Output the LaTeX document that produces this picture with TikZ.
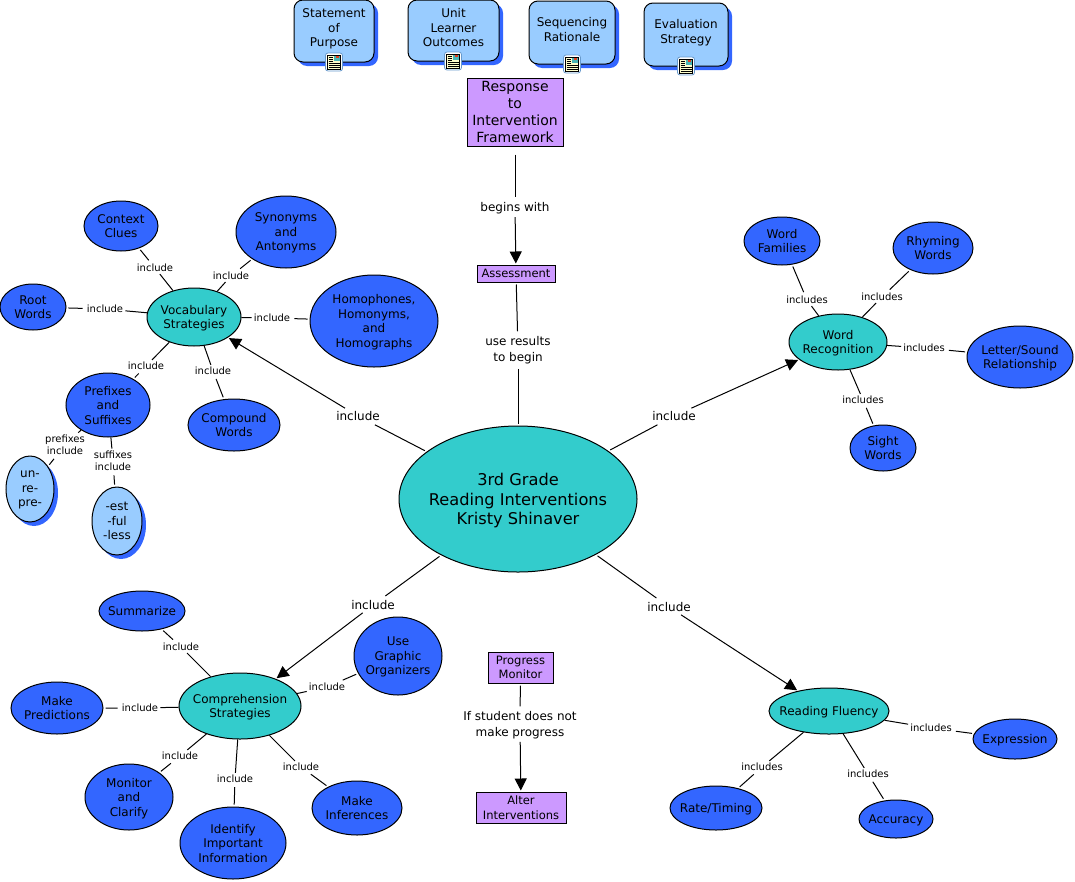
\documentclass[tikz,border=0pt]{standalone}
\usepackage{xcolor}
\usepackage{fontspec}
\setmainfont{DejaVu Sans}
\usetikzlibrary{arrows.meta,shapes.geometric,shadows}
\definecolor{conceptblue}{HTML}{3366FF}
\definecolor{paleblue}{HTML}{99CCFF}
\definecolor{teal}{HTML}{33CCCC}
\definecolor{lilac}{HTML}{CC99FF}
\definecolor{pagecream}{HTML}{FFFFCC}
\definecolor{framesteel}{HTML}{6699CC}
\tikzset{
  ell/.style 2 args={ellipse, draw, line width=1pt, inner sep=-14pt, align=center, text depth=-2pt,
    font=\fontsize{12}{14.5}\selectfont, minimum width=#1pt, minimum height=#2pt},
  leaf/.style={fill=conceptblue},
  hub/.style={fill=teal},
  pale/.style={fill=paleblue, drop shadow={shadow xshift=4pt, shadow yshift=-4pt, fill=conceptblue, opacity=1}},
  card/.style 2 args={rectangle, rounded corners=9pt, draw, line width=1pt, fill=paleblue, align=center, text depth=6pt,
    font=\fontsize{12}{14.5}\selectfont, minimum width=#1pt, minimum height=#2pt, inner sep=0pt,
    drop shadow={shadow xshift=4pt, shadow yshift=-4pt, fill=conceptblue, opacity=1}},
  stage/.style 2 args={rectangle, draw, line width=1pt, fill=lilac, align=center, inner sep=0pt,
    minimum width=#1pt, minimum height=#2pt},
  lbl/.style={align=center, inner sep=2pt, font=\fontsize{10}{12.5}\selectfont},
  biglbl/.style={align=center, inner sep=3pt, font=\fontsize{12}{15.5}\selectfont},
  link/.style={line width=1pt, shorten <=2pt, shorten >=2pt},
  tolink/.style={line width=1pt, shorten >=1pt, -{Triangle[length=12pt,width=12pt]}},
  docicon/.pic={
    \draw[framesteel, fill=white, rounded corners=2.5pt, line width=.8pt] (-8.5,-9) rectangle (8.5,9);
    \draw[fill=pagecream, line width=.9pt] (-6.5,-7) rectangle (6.5,7);
    \fill[teal!70!gray] (0,-6) rectangle (5.5,-1);
    \fill[red!50!brown] (2,-6) rectangle (5,-4);
    \foreach \y in {-5,-3,-1} \draw[line width=.7pt] (-5.5,\y) -- (-1.5,\y);
    \foreach \y in {1.5,3.5,5.5} \draw[line width=.7pt] (-5.5,\y) -- (5.5,\y);
  }
}
\begin{document}
\begin{tikzpicture}[x=1pt, y=-1pt]
\useasboundingbox (0,0) rectangle (1075,881);
% resource cards
\node[card={80}{62}] (purpose) at (334,31) {Statement\\of\\Purpose};
\node[card={91}{61}] (outcomes) at (453.5,30.5) {Unit\\Learner\\Outcomes};
\node[card={86}{63}] (rationale) at (572,32.5) {Sequencing\\Rationale};
\node[card={84}{63}] (evaluation) at (686,34.5) {Evaluation\\Strategy};
\pic at (334,62) {docicon};
\pic at (453,61) {docicon};
\pic at (572,64) {docicon};
\pic at (686,66) {docicon};
% framework column
\node[stage={96}{68}, font=\fontsize{14}{17}\selectfont] (framework) at (515,112) {Response\\to\\Intervention\\Framework};
\node[stage={78}{17}, font=\fontsize{11.5}{14}\selectfont] (assessment) at (516,273.5) {Assessment};
\node[ell={238}{146}, hub, font=\fontsize{16.2}{19.5}\selectfont] (reading) at (518,499) {3rd Grade\\Reading Interventions\\Kristy Shinaver};
\node[stage={65}{31}, font=\fontsize{11.5}{14.5}\selectfont] (monitor) at (520.5,667.5) {Progress\\Monitor};
\node[stage={90}{31}, font=\fontsize{11.5}{14.5}\selectfont] (alter) at (521,807.5) {Alter\\Interventions};
% hubs
\node[ell={94}{58}, hub] (vocab) at (194,317) {Vocabulary\\Strategies};
\node[ell={98}{56}, hub] (wordrec) at (838,342) {Word\\Recognition};
\node[ell={120}{46}, hub] (fluency) at (829,711) {Reading Fluency};
\node[ell={122}{66}, hub] (compre) at (240,706) {Comprehension\\Strategies};
% vocabulary leaves
\node[ell={74}{50}, leaf] (context) at (121,226) {Context\\Clues};
\node[ell={100}{72}, leaf] (synonyms) at (286,232) {Synonyms\\and\\Antonyms};
\node[ell={66}{46}, leaf] (root) at (33,307) {Root\\Words};
\node[ell={128}{92}, leaf] (homo) at (374,321) {Homophones,\\Homonyms,\\and\\Homographs};
\node[ell={92}{52}, leaf] (compound) at (234,425) {Compound\\Words};
\node[ell={84}{64}, leaf] (prefixes) at (108,405) {Prefixes\\and\\Suffixes};
\node[ell={48}{66}, pale] (unre) at (30,489) {un-\\re-\\pre-};
\node[ell={50}{68}, pale] (estful) at (117,521) {-est\\-ful\\-less};
% word recognition leaves
\node[ell={76}{48}, leaf] (families) at (782,241) {Word\\Families};
\node[ell={80}{52}, leaf] (rhyming) at (933,248) {Rhyming\\Words};
\node[ell={106}{62}, leaf] (letter) at (1020,357) {Letter/Sound\\Relationship};
\node[ell={66}{46}, leaf] (sight) at (883,448) {Sight\\Words};
% fluency leaves
\node[ell={84}{40}, leaf] (expression) at (1015,739) {Expression};
\node[ell={92}{44}, leaf] (rate) at (716,808) {Rate/Timing};
\node[ell={74}{38}, leaf] (accuracy) at (896,819) {Accuracy};
% comprehension leaves
\node[ell={86}{40}, leaf] (summarize) at (142,611) {Summarize};
\node[ell={92}{52}, leaf] (predict) at (57,708) {Make\\Predictions};
\node[ell={88}{78}, leaf] (graphic) at (398,656) {Use\\Graphic\\Organizers};
\node[ell={88}{66}, leaf] (clarify) at (129,797) {Monitor\\and\\Clarify};
\node[ell={106}{72}, leaf] (identify) at (233,843) {Identify\\Important\\Information};
\node[ell={90}{54}, leaf] (infer) at (357,808) {Make\\Inferences};
% linking phrases
\node[biglbl] (begins) at (515,208) {begins with};
\node[biglbl] (results) at (518,350) {use results\\to begin};
\node[biglbl] (noprogress) at (520,725) {If student does not\\make progress};
\node[biglbl] (incvocab) at (358,416) {include};
\node[biglbl] (incword) at (674,416) {include};
\node[biglbl] (inccompre) at (373,605) {include};
\node[biglbl] (incfluency) at (669,607) {include};
\node[lbl] (v1) at (155,268) {include};
\node[lbl] (v2) at (231,276) {include};
\node[lbl] (v3) at (105,309) {include};
\node[lbl] (v4) at (272,318) {include};
\node[lbl] (v5) at (146,366) {include};
\node[lbl] (v6) at (213,371) {include};
\node[lbl] (p1) at (65,445) {prefixes\\include};
\node[lbl] (p2) at (113,461) {suffixes\\include};
\node[lbl] (w1) at (807,300) {includes};
\node[lbl] (w2) at (882,297) {includes};
\node[lbl] (w3) at (924,348) {includes};
\node[lbl] (w4) at (863,400) {includes};
\node[lbl] (f1) at (931,728) {includes};
\node[lbl] (f2) at (762,767) {includes};
\node[lbl] (f3) at (868,774) {includes};
\node[lbl] (c1) at (181,647) {include};
\node[lbl] (c2) at (140,708) {include};
\node[lbl] (c3) at (327,687) {include};
\node[lbl] (c4) at (180,756) {include};
\node[lbl] (c5) at (235,779) {include};
\node[lbl] (c6) at (301,767) {include};
% main connectors
\draw[link, shorten <=8pt] (framework) -- (begins);
\draw[tolink] (begins) -- (assessment);
\draw[link] (assessment) -- (results);
\draw[link] (results) -- (reading);
\draw[link] (reading) -- (incvocab);
\draw[tolink] (incvocab) -- (vocab);
\draw[link] (reading) -- (incword);
\draw[tolink] (incword) -- (wordrec);
\draw[link] (reading) -- (inccompre);
\draw[tolink] (inccompre) -- (compre);
\draw[link] (reading) -- (incfluency);
\draw[tolink] (incfluency) -- (fluency);
\draw[link] (monitor) -- (noprogress);
\draw[tolink] (noprogress) -- (alter);
% vocabulary connectors
\draw[link] (vocab) -- (v1) (v1) -- (context);
\draw[link] (vocab) -- (v2) (v2) -- (synonyms);
\draw[link] (vocab) -- (v3) (v3) -- (root);
\draw[link] (vocab) -- (v4) (v4) -- (homo);
\draw[link] (vocab) -- (v5) (v5) -- (prefixes);
\draw[link] (vocab) -- (v6) (v6) -- (compound);
\draw[link] (prefixes) -- (p1) (p1) -- (unre);
\draw[link] (prefixes) -- (p2) (p2) -- (estful);
% word recognition connectors
\draw[link] (wordrec) -- (w1) (w1) -- (families);
\draw[link] (wordrec) -- (w2) (w2) -- (rhyming);
\draw[link] (wordrec) -- (w3) (w3) -- (letter);
\draw[link] (wordrec) -- (w4) (w4) -- (sight);
% fluency connectors
\draw[link] (fluency) -- (f1) (f1) -- (expression);
\draw[link] (fluency) -- (f2) (f2) -- (rate);
\draw[link] (fluency) -- (f3) (f3) -- (accuracy);
% comprehension connectors
\draw[link] (compre) -- (c1) (c1) -- (summarize);
\draw[link] (compre) -- (c2) (c2) -- (predict);
\draw[link] (compre) -- (c3) (c3) -- (graphic);
\draw[link] (compre) -- (c4) (c4) -- (clarify);
\draw[link] (compre) -- (c5) (c5) -- (identify);
\draw[link] (compre) -- (c6) (c6) -- (infer);
\end{tikzpicture}
\end{document}
